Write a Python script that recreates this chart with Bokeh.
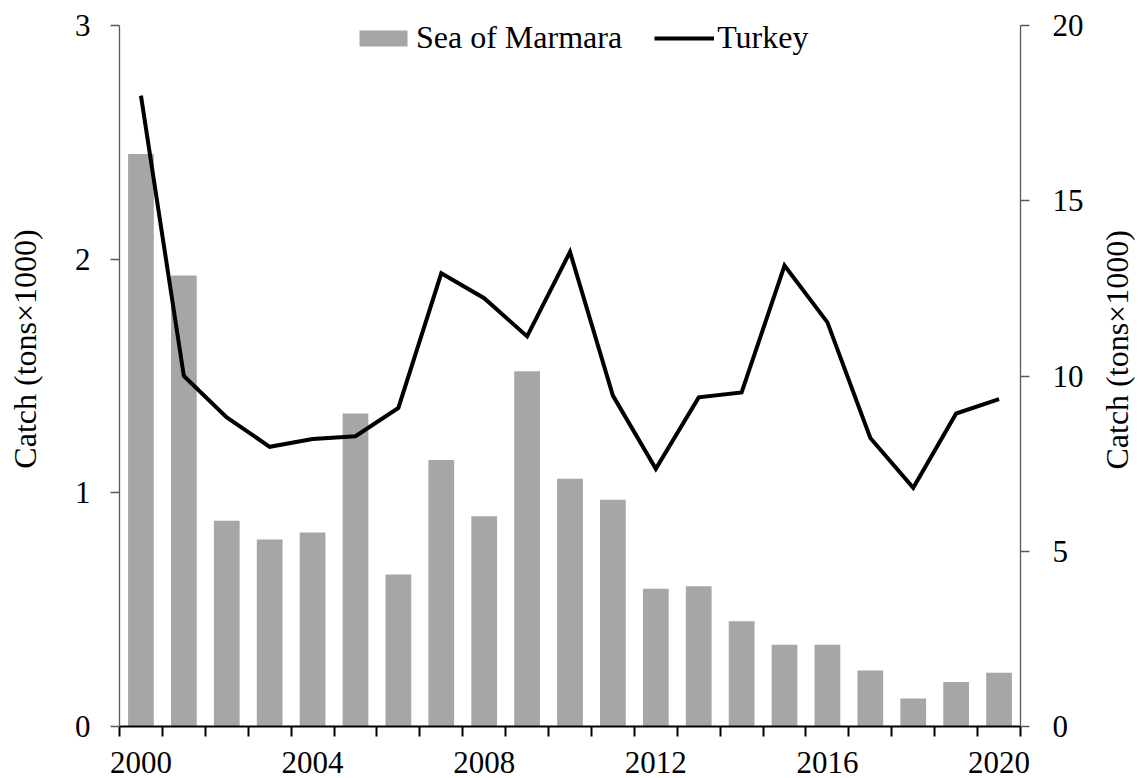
import math
from bokeh.plotting import figure
from bokeh.layouts import row
from bokeh.models import (Range1d, LinearAxis, FixedTicker, Legend, LegendItem,
                          ColumnDataSource)
from bokeh.core.properties import value
from bokeh.embed import file_html
from bokeh.resources import INLINE

# ---------------- data ----------------
years = list(range(2000, 2021))
marmara = [2.45, 1.93, 0.88, 0.80, 0.83, 1.34, 0.65, 1.14, 0.90, 1.52, 1.06,
           0.97, 0.59, 0.60, 0.45, 0.35, 0.35, 0.24, 0.12, 0.19, 0.23]
turkey = [18.0, 10.0, 8.82, 7.98, 8.20, 8.28, 9.09, 12.93, 12.22, 11.13, 13.54,
          9.44, 7.35, 9.39, 9.53, 13.15, 11.53, 8.23, 6.81, 8.93, 9.34]
x_tick_years = [2000, 2004, 2008, 2012, 2016, 2020]
x_tick_labels = ["2000", "2004", "2008", "2012", "2016", "2020"]
left_ticks = [0, 1, 2, 3]
right_ticks = [0, 5, 10, 15, 20]
series_names = ["Sea of Marmara", "Turkey"]
axis_title = "Catch (tons×1000)"

FONT = "Liberation Serif"
FS_TICK = "31px"
FS_TEXT = "32px"
BAR_COLOR = "#A6A6A6"
AX_GRAY = "#595959"

H = 778
WL, WR = 60, 49
WM = 1139 - WL - WR

src = ColumnDataSource(dict(year=years, marmara=marmara, turkey=turkey))

p = figure(width=WM, height=H,
           x_range=Range1d(years[0] - 0.5, years[-1] + 0.5),
           y_range=Range1d(left_ticks[0], left_ticks[-1]),
           output_backend="svg", toolbar_location=None,
           min_border_left=119 - WL, min_border_right=1090 - 1020,
           min_border_top=25, min_border_bottom=52)
p.extra_y_ranges = {"r": Range1d(right_ticks[0], right_ticks[-1])}
p.outline_line_color = None
p.xgrid.visible = False
p.ygrid.visible = False
p.background_fill_color = "white"
p.border_fill_color = "white"

bars = p.vbar(x="year", top="marmara", width=0.6, source=src,
              fill_color=BAR_COLOR, line_color=None)
line = p.line(x="year", y="turkey", source=src, y_range_name="r",
              line_color="black", line_width=4, line_join="miter")

# x axis
xa = p.xaxis[0]
xa.ticker = FixedTicker(ticks=x_tick_years,
                        minor_ticks=[y - 0.5 for y in years] + [years[-1] + 0.5])
xa.major_label_overrides = {y: l for y, l in zip(x_tick_years, x_tick_labels)}
xa.axis_line_color = "black"
xa.axis_line_width = 2
xa.major_tick_line_color = None
xa.major_tick_out = 0
xa.major_tick_in = 0
xa.minor_tick_line_color = "black"
xa.minor_tick_line_width = 2
xa.minor_tick_out = 10
xa.minor_tick_in = 0
xa.major_label_standoff = 15
xa.major_label_text_font = FONT
xa.major_label_text_font_size = FS_TICK
xa.major_label_text_color = "black"

# left axis
ya = p.yaxis[0]
ya.ticker = FixedTicker(ticks=left_ticks, minor_ticks=[])
ya.axis_line_color = AX_GRAY
ya.axis_line_width = 1.3
ya.major_tick_line_color = AX_GRAY
ya.major_tick_line_width = 1.3
ya.major_tick_out = 9
ya.major_tick_in = 0
ya.minor_tick_line_color = None
ya.major_label_standoff = 20
ya.major_label_text_font = FONT
ya.major_label_text_font_size = FS_TICK
ya.major_label_text_color = "black"

# right axis
ra = LinearAxis(y_range_name="r", ticker=FixedTicker(ticks=right_ticks, minor_ticks=[]))
ra.axis_line_color = AX_GRAY
ra.axis_line_width = 1.3
ra.major_tick_line_color = AX_GRAY
ra.major_tick_line_width = 1.3
ra.major_tick_out = 9
ra.major_tick_in = 0
ra.minor_tick_line_color = None
ra.major_label_standoff = 23
ra.major_label_text_font = FONT
ra.major_label_text_font_size = FS_TICK
ra.major_label_text_color = "black"
p.add_layout(ra, "right")

legend = Legend(items=[LegendItem(label=series_names[0], renderers=[bars]),
                       LegendItem(label=series_names[1], renderers=[line])],
                location=(234, 670), orientation="horizontal",
                border_line_color=None, background_fill_alpha=0,
                padding=0, margin=0, spacing=32,
                glyph_width=60, glyph_height=20, label_standoff=3,
                label_text_font=FONT, label_text_font_size=FS_TEXT,
                label_text_color="black")
p.add_layout(legend)


def title_strip(width, cx, cy):
    """Narrow side figure that carries a rotated axis title."""
    f = figure(width=width, height=H, x_range=Range1d(0, width),
               y_range=Range1d(0, H), output_backend="svg",
               toolbar_location=None, x_axis_location=None,
               y_axis_location=None, min_border=0)
    f.outline_line_color = None
    f.xgrid.visible = False
    f.ygrid.visible = False
    f.background_fill_color = "white"
    f.border_fill_color = "white"
    f.text(x=[cx], y=[H - cy], text=[axis_title], angle=math.pi / 2,
           text_align="center", text_baseline="middle",
           text_font=value(FONT), text_font_size=value(FS_TEXT),
           text_color="black")
    return f


left_strip = title_strip(WL, 24.5, 359)
right_strip = title_strip(WR, 1116.5 - (WL + WM), 360)

layout = row(left_strip, p, right_strip, spacing=0)
open("out.html", "w").write(file_html(layout, INLINE))
